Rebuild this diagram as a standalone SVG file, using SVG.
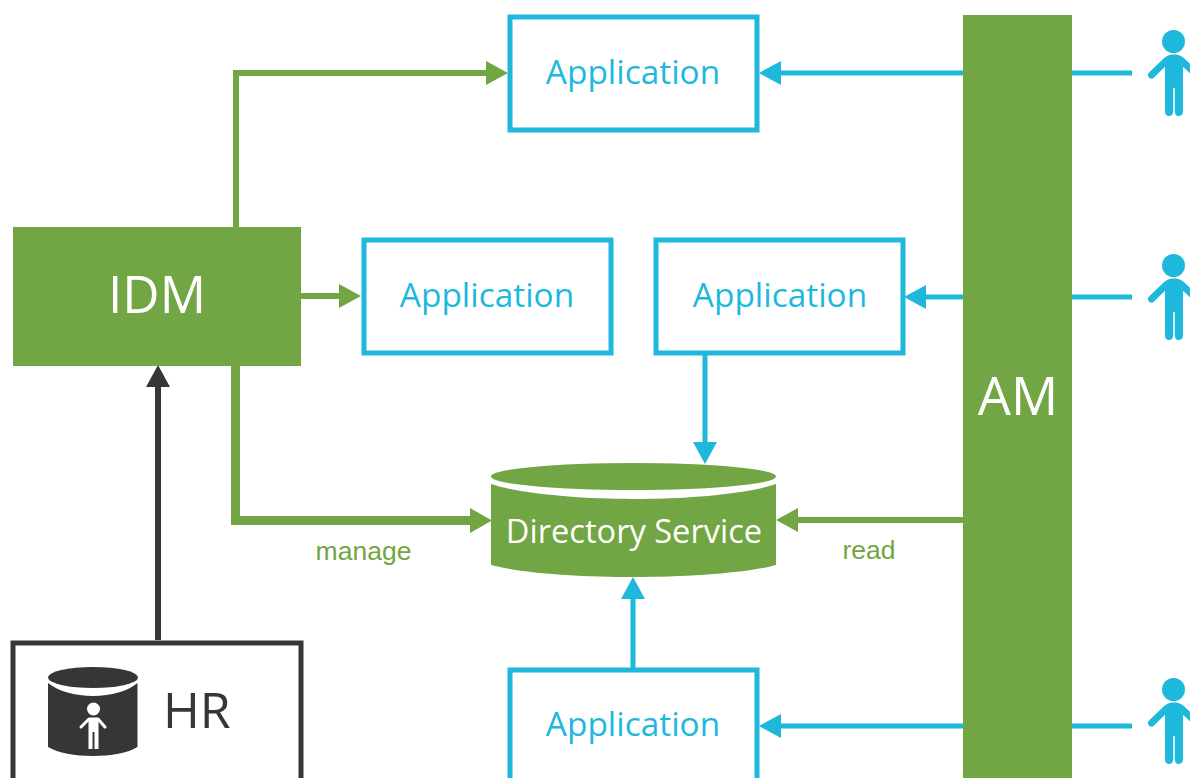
<svg xmlns="http://www.w3.org/2000/svg" width="1190" height="778" viewBox="0 0 1190 778">
<style>
.t{font-family:"Open Sans","Noto Sans","Liberation Sans",sans-serif}
.app{fill:#fff;stroke:#1eb8dc;stroke-width:5}
.at{fill:#1eb8dc;font-size:33.400px;text-anchor:middle}
.b{fill:none;stroke:#1eb8dc;stroke-width:5}
.g{fill:none;stroke:#72a543;stroke-width:6}
.g2{fill:none;stroke:#72a543;stroke-width:9}
.gf{fill:#72a543}.bf{fill:#1eb8dc}
.w{fill:#fff;text-anchor:middle}
.l{fill:#72a543;font-family:"Liberation Sans",Arial,sans-serif;font-size:26.500px;text-anchor:middle}
</style>
<defs>
<g id="person">
<circle cx="1173.500" cy="41.500" r="11.500" fill="#1eb8dc"/>
<path d="M1151.500 75L1165 62Q1169 58 1173 58H1175Q1179 58 1183 62L1197 75" fill="none" stroke="#1eb8dc" stroke-width="7" stroke-linecap="round" stroke-linejoin="round"/>
<path d="M1165 58H1183V111Q1183 116 1178.500 116Q1174.800 116 1174.800 111V88H1173.200V111Q1173.200 116 1169 116Q1165 116 1165 111Z" fill="#1eb8dc"/>
<path d="M1162 64L1167 58V70ZM1186 64L1181 58V70Z" fill="#1eb8dc"/>
</g>
</defs>
<g id="connectors">
<path class="g" d="M236 227V73H488"/><polygon class="gf" points="508,73 486,61 486,85"/>
<path class="g" d="M301 296H342"/><polygon class="gf" points="361,296 339,284 339,308"/>
<path class="g2" d="M235.500 365V520.500H472"/><polygon class="gf" points="492,520.500 470,508 470,533"/>
<path class="g" d="M963 520H796"/><polygon class="gf" points="776,520 798,508 798,532"/>
<path d="M158 640V385" fill="none" stroke="#363636" stroke-width="6"/><polygon fill="#363636" points="158,365 146,387 170,387"/>
<path class="b" d="M963 73H780"/><polygon class="bf" points="759,73 781,61 781,85"/>
<path class="b" d="M963 297H926"/><polygon class="bf" points="904,297 926,285 926,309"/>
<path class="b" d="M963 726H780"/><polygon class="bf" points="759,726 781,714 781,738"/>
<path class="b" d="M705 353V444"/><polygon class="bf" points="705,464 693,442 717,442"/>
<path class="b" d="M633 668V598"/><polygon class="bf" points="633,577 621,599 645,599"/>
<path class="b" d="M1072 73H1132M1072 297H1132M1072 726H1132"/>
<text class="l" x="363.500" y="560">manage</text>
<text class="l" x="869" y="559">read</text>
</g>
<g id="app-top"><rect class="app" x="510" y="17" width="247" height="113"/><text class="t at" x="633" y="84">Application</text></g>
<g id="app-mid-left"><rect class="app" x="364" y="240" width="247" height="113"/><text class="t at" x="487" y="307">Application</text></g>
<g id="app-mid-right"><rect class="app" x="656" y="240" width="247" height="113"/><text class="t at" x="780" y="307">Application</text></g>
<g id="app-bottom"><rect class="app" x="510" y="670" width="247" height="113"/><text class="t at" x="633" y="736">Application</text></g>
<g id="idm"><rect class="gf" x="13" y="227" width="288" height="139"/><text class="t w" x="157" y="313" font-size="51.500">IDM</text></g>
<g id="am"><rect class="gf" x="963" y="15" width="109" height="763"/><text class="t w" x="1018" y="415" font-size="52.500">AM</text></g>
<g id="directory">
<path class="gf" d="M491 484C520 494 580 499 633.500 499C687 499 747 494 776 484V565C747 573 687 577 633.500 577C580 577 520 573 491 565Z"/>
<ellipse class="gf" cx="633.500" cy="476.500" rx="142.500" ry="13.500"/>
<text class="t w" x="634" y="543" font-size="32.600">Directory Service</text>
</g>
<g id="hr">
<path d="M13 778V643H301V778" fill="none" stroke="#363636" stroke-width="5"/>
<path fill="#363636" d="M48 683C58 691 75 696 93 696C111 696 128 691 137.500 683V747C128 753 111 756 93 756C75 756 58 753 48 747Z"/>
<ellipse cx="93" cy="677.500" rx="45" ry="10.500" fill="#363636"/>
<circle cx="93.500" cy="709" r="6.500" fill="#fff"/>
<path d="M81 727L89 719H98L105 727" fill="none" stroke="#fff" stroke-width="3" stroke-linecap="round" stroke-linejoin="round"/>
<path d="M88.500 718H98.500V749H94.500V732H92.500V749H88.500Z" fill="#fff"/>
<text class="t" x="163" y="728" font-size="50" fill="#363636">HR</text>
</g>
<g id="user-1"><use href="#person"/></g>
<g id="user-2"><use href="#person" y="224"/></g>
<g id="user-3"><use href="#person" y="648"/></g>
</svg>
